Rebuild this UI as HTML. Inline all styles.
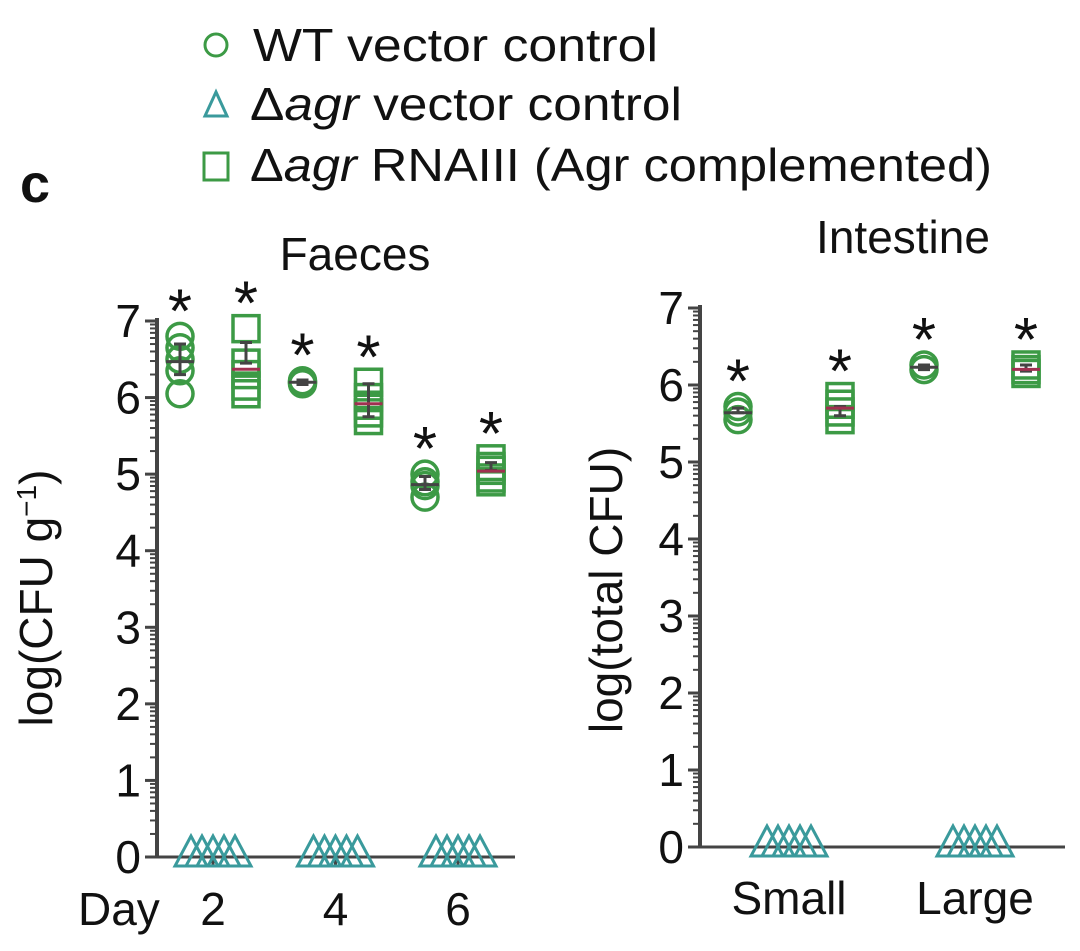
<!DOCTYPE html>
<html><head><meta charset="utf-8"><style>
html,body{margin:0;padding:0;background:#fff}
svg{display:block}
text{font-family:"Liberation Sans",sans-serif;fill:#111}
</style></head><body>
<svg id="c" width="1080" height="951" viewBox="0 0 1080 951">
<g>
 <circle cx="216" cy="45" r="11" fill="none" stroke="#3c9a45" stroke-width="3"/>
 <text x="253" y="61" font-size="46" textLength="405" lengthAdjust="spacingAndGlyphs">WT vector control</text>
 <polygon points="216,92 205,116 227,116" fill="none" stroke="#3a9a9c" stroke-width="3"/>
 <text x="250" y="120" font-size="46" textLength="432" lengthAdjust="spacingAndGlyphs">Δ<tspan font-style="italic">agr</tspan> vector control</text>
 <rect x="204" y="153" width="24" height="27" fill="none" stroke="#3c9a45" stroke-width="3"/>
 <text x="250" y="181" font-size="46" textLength="742" lengthAdjust="spacingAndGlyphs">Δ<tspan font-style="italic">agr</tspan> RNAIII (Agr complemented)</text>
</g>
<text x="20" y="202" font-size="54" font-weight="bold">c</text>
<text x="355" y="270" font-size="46" text-anchor="middle">Faeces</text>
<text x="903" y="253" font-size="46" text-anchor="middle">Intestine</text>
<text transform="translate(52,598) rotate(-90)" font-size="46" text-anchor="middle">log(CFU g<tspan dy="-16" font-size="28">−1</tspan><tspan dy="16">)</tspan></text>
<text transform="translate(622,590) rotate(-90)" font-size="46" text-anchor="middle">log(total CFU)</text>
<text x="78" y="925" font-size="46">Day</text>
<g id="plots"></g>
</svg>
<script>
const ns="http://www.w3.org/2000/svg";
const yTicks=[0,1,2,3,4,5,6,7];
const faecesDays=["2","4","6"];
const faecesWT=[[6.8,6.65,6.5,6.35,6.05],[6.22,6.2,6.18],[5.0,4.9,4.85,4.7]];
const faecesRN=[[6.9,6.45,6.3,6.15,6.05],[6.2,6.0,5.9,5.8,5.7],[5.2,5.1,5.05,4.95,4.9]];
const faecesWTerr=[[6.3,6.7],[6.17,6.23],[4.8,4.97]];
const faecesRNerr=[[6.45,6.72],[5.75,6.18],[5.05,5.15]];
const intestineSites=["Small","Large"];
const intWT=[[5.72,5.65,5.55],[6.26,6.2]];
const intRN=[[5.85,5.75,5.65,5.55],[6.26,6.2,6.15]];
const intWTerr=[[5.64,5.7],[6.2,6.26]];
const intRNerr=[[5.6,5.72],[6.18,6.26]];
const agrValue=0;
const G=document.getElementById('plots');
const GREEN="#3c9a45",TEAL="#3a9a9c";
function mk(t,a,p){const e=document.createElementNS(ns,t);for(const k in a)e.setAttribute(k,a[k]);(p||G).appendChild(e);return e;}
function drawPanel(P){
 const y=v=>P.y0-(P.y0-P.y7)*v/7;
 const g=mk('g',{});
 
 
 const ax=mk('line',{x1:P.ax,y1:y(7)-3,x2:P.ax,y2:y(0),stroke:'#444','stroke-width':4},g);
 
 
 const xa=mk('line',{x1:P.ax,y1:y(0),x2:P.xEnd,y2:y(0),stroke:'#444','stroke-width':3},g);
 
 
 yTicks.forEach(t=>{
  mk('line',{x1:P.ax-12,y1:y(t),x2:P.ax,y2:y(t),stroke:'#444','stroke-width':3},g);
  if(t<7){for(let m=2;m<10;m++){const yy=y(t+Math.log10(m));mk('line',{x1:P.ax-7,y1:yy,x2:P.ax,y2:yy,stroke:'#444','stroke-width':2},g);}}
  const tl=mk('text',{x:P.ax-16,y:y(t)+16,'font-size':46,'text-anchor':'end'},g);
  tl.textContent=t;
  
  
 });
 P.cats.forEach((c,i)=>{
  const cx=P.cx(i);
  if(P.xticks) mk('line',{x1:cx,y1:y(0),x2:cx,y2:y(0)+9,stroke:'#444','stroke-width':3},g);
  const cl=mk('text',{x:cx,y:P.labY,'font-size':46,'text-anchor':'middle'},g);
  cl.textContent=c;
  
  
  for(let k=-2;k<=2;k++){const tx=cx+k*11,ty=y(agrValue);
   const tr=mk('polygon',{points:`${tx},${ty-21} ${tx-16},${ty+9} ${tx+16},${ty+9}`,fill:'none',stroke:TEAL,'stroke-width':3},g);
   
   }
  const wx=cx-P.off,rx=cx+P.off;
  P.wt[i].forEach(v=>{const e=mk('circle',{cx:wx,cy:y(v),r:13,fill:'none',stroke:GREEN,'stroke-width':3.5},g);
   
   });
  P.rn[i].forEach(v=>{const e=mk('rect',{x:rx-13,y:y(v)-13,width:26,height:26,fill:'none',stroke:GREEN,'stroke-width':3.5},g);
   
   });
  [[wx,P.wtE[i],P.wt[i],'#444'],[rx,P.rnE[i],P.rn[i],'#a03050']].forEach(([x,e,vals,mc])=>{
   const mean=vals.reduce((a,b)=>a+b,0)/vals.length;
   const eb=mk('path',{d:`M${x},${y(e[0])}V${y(e[1])}M${x-6},${y(e[0])}h12M${x-6},${y(e[1])}h12`,stroke:'#444','stroke-width':3,fill:'none'},g);
   
   
   const ml=mk('line',{x1:x-14,y1:y(mean),x2:x+14,y2:y(mean),stroke:mc,'stroke-width':3},g);
   
   
   const top=Math.max(...vals);
   const st=mk('text',{x:x,y:y(top)-4,'font-size':62,'text-anchor':'middle'},g);
   st.textContent='*';
   
   
  });
 });
}
drawPanel({name:'faeces',ax:157,xEnd:515,y0:857,y7:321,cats:faecesDays,cx:i=>213+i*122.5,off:33,wt:faecesWT,rn:faecesRN,wtE:faecesWTerr,rnE:faecesRNerr,labY:925,xticks:true});
drawPanel({name:'intestine',ax:700,xEnd:1065,y0:847,y7:308,cats:intestineSites,cx:i=>789+i*186,off:51,wt:intWT,rn:intRN,wtE:intWTerr,rnE:intRNerr,labY:914,xticks:false});
</script>
</body></html>
